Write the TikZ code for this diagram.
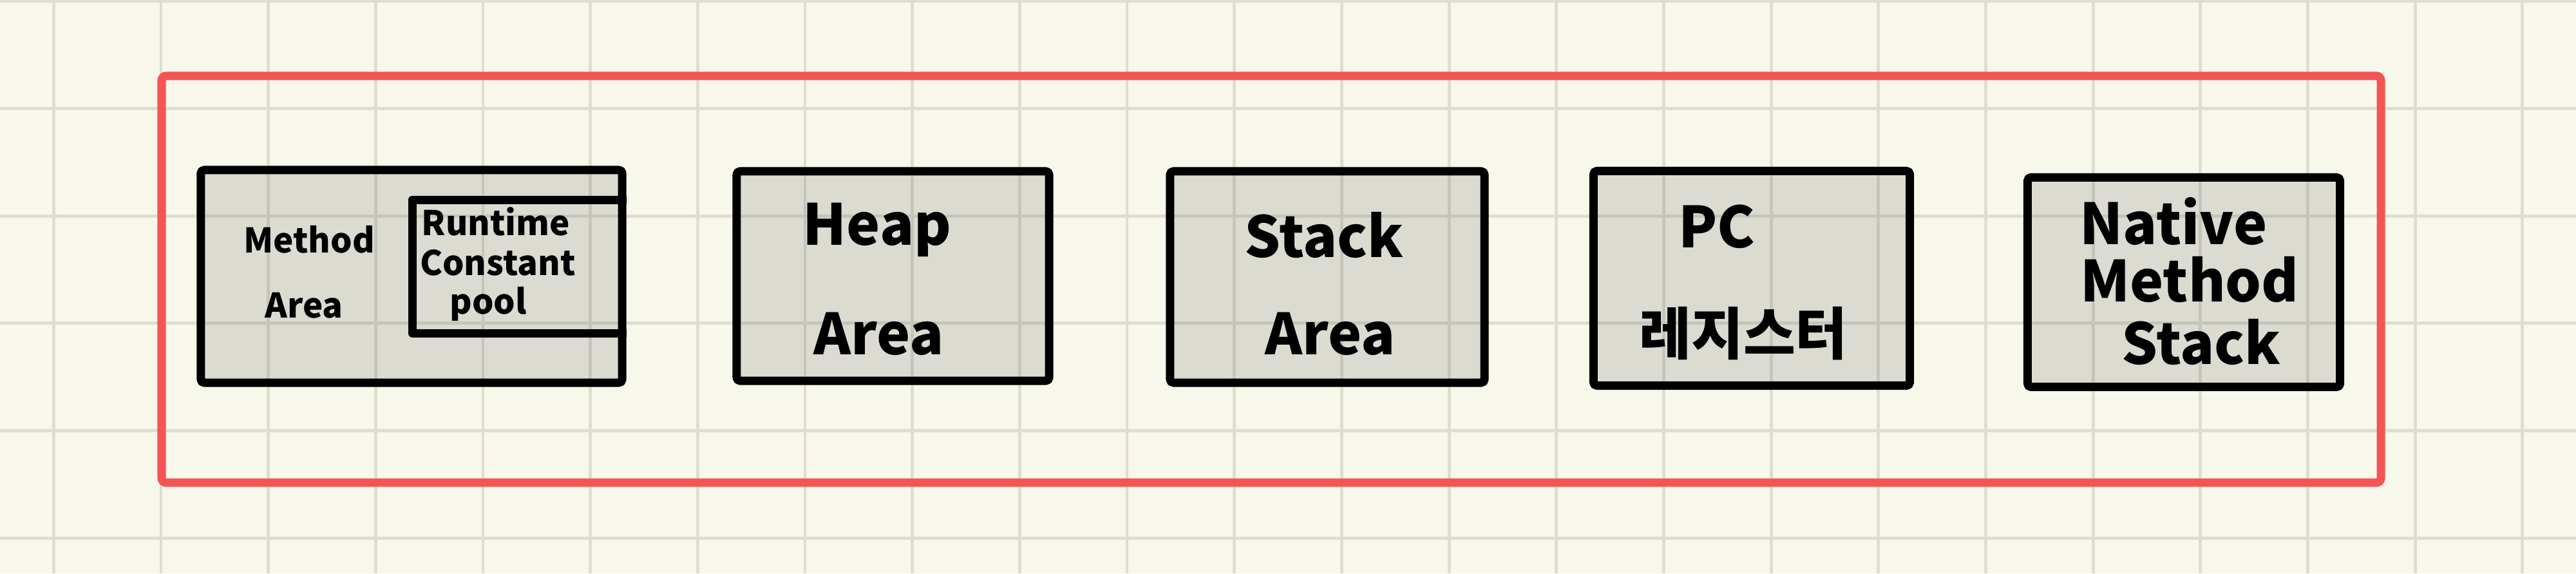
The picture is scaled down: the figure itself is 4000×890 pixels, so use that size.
\documentclass[tikz,border=0pt]{standalone}
\usepackage{fontspec}
\setmainfont{Noto Sans CJK KR}
\definecolor{bgc}{RGB}{248,247,235}
\definecolor{gridc}{RGB}{222,222,208}
\definecolor{redc}{RGB}{245,84,84}
\begin{document}
\begin{tikzpicture}[x=0.01cm,y=-0.01cm,
  membox/.style={draw=black,line width=3.7pt,fill=black,fill opacity=0.11,draw opacity=1,
    rounded corners=1.5pt,line join=round,inner sep=0pt,rectangle},
  outerbox/.style={draw=redc,line width=3.7pt,rounded corners=2pt,inner sep=0pt,rectangle},
  gridline/.style={draw=gridc,line width=1.4pt},
  smalltxt/.style={font=\fontsize{15}{17}\selectfont\bfseries,inner sep=0pt},
  bigtxt/.style={font=\fontsize{25}{28}\selectfont\bfseries,inner sep=0pt}]
\fill[bgc] (0,0) rectangle (4000,890);
\useasboundingbox (0,0) rectangle (4000,890);
\foreach \i in {0,...,23} \draw[gridline] ({83.3+166.67*\i},0) -- ({83.3+166.67*\i},890);
\foreach \j in {0,...,5} \draw[gridline] (0,{1.7+166.67*\j}) -- (4000,{1.7+166.67*\j});

\node[outerbox,minimum width=34.44cm,minimum height=6.31cm] (jvm) at (1974,433.5) {};

\node[membox,minimum width=6.54cm,minimum height=3.30cm] (method) at (639,429) {};
\node[membox,minimum width=4.85cm,minimum height=3.25cm] (heap) at (1386.5,428.5) {};
\node[membox,minimum width=4.88cm,minimum height=3.28cm] (stack) at (2061,430) {};
\node[membox,minimum width=4.91cm,minimum height=3.33cm] (pc) at (2720,432) {};
\node[membox,minimum width=4.85cm,minimum height=3.25cm] (native) at (3391,438) {};

\coordinate (rcpA) at (method.east |- 0,310);
\coordinate (rcpB) at (method.east |- 0,517);
\draw[black,line width=3.7pt,line join=round] (rcpA) -- (640,310) -- (640,517) -- (rcpB);

\node[smalltxt] (tmethod) at (480,372) {Method};
\node[smalltxt] (tarea1) at (472,474) {Area};
\node[smalltxt] (trun) at (770,344) {Runtime};
\node[smalltxt] (tconst) at (773,408) {Constant};
\node[smalltxt] (tpool) at (758,472) {pool};

\node[bigtxt] (theap) at (1362,357) {Heap};
\node[bigtxt] (tarea2) at (1365,518) {Area};
\node[bigtxt] (tstack) at (2056,365) {Stack};
\node[bigtxt] (tarea3) at (2066,518) {Area};
\node[bigtxt] (tpc) at (2666,352) {PC};
\node[bigtxt] (treg) at (2707,518) {레지스터};
\node[bigtxt] (tnat) at (3375,344) {Native};
\node[bigtxt] (tnm) at (3400,434) {Method};
\node[bigtxt] (tns) at (3418,531) {Stack};
\end{tikzpicture}
\end{document}
